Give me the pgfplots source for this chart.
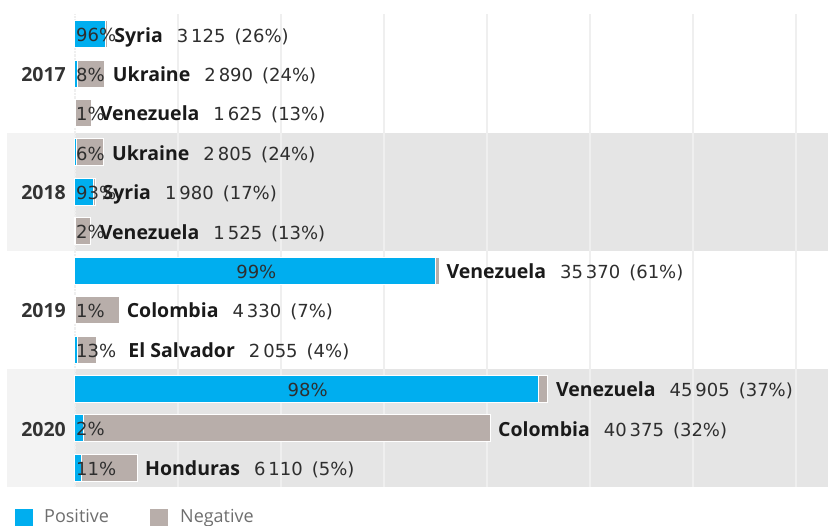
\documentclass[border=0pt]{standalone}
\usepackage{pgfplots}
\pgfplotsset{compat=1.18}
\usepackage{pgfplotstable}
\usepackage{fontspec}
\setmainfont{Open Sans}
\newfontfamily\reg{DejaVu Sans}
\definecolor{cpos}{HTML}{00AEEF}
\definecolor{cneg}{HTML}{B8AEAA}
\definecolor{band}{HTML}{E5E5E5}
\definecolor{bandl}{HTML}{F3F3F3}
\definecolor{gridc}{HTML}{EFEFEF}
\definecolor{txt}{HTML}{1A1A1A}
\definecolor{rtxt}{HTML}{2E2E2E}
\definecolor{yr}{HTML}{333333}
\definecolor{leg}{HTML}{6E6E6E}
\newcommand{\FB}{\fontsize{19.5}{22}\selectfont\bfseries}
\newcommand{\FR}{\reg\fontsize{18}{21}\selectfont}
\newcommand{\lab}[3]{{\FB #1}\hspace{14pt}{\FR\color{rtxt}#2\hspace{9pt}(#3\%)}}
\tikzset{
  pl/.style={anchor=base west, xshift=1pt, yshift=-7.6pt, inner sep=0pt, text=rtxt, font=\FR},
  cl/.style={anchor=base west, xshift=#1, yshift=-7.8pt, inner sep=0pt, text=txt},
  yl/.style={anchor=base east, xshift=-9pt, yshift=-7.8pt, inner sep=0pt, text=yr, font=\FB},
}

\pgfplotstableread{
row pos neg
1 3000 125
2 231 2659
3 16 1609
4 168 2637
5 1841 139
6 31 1494
7 35016 354
8 43 4287
9 267 1788
10 44987 918
11 808 39567
12 672 5438
}\data

\begin{document}
\begin{tikzpicture}[x=1pt,y=1pt]
\useasboundingbox (0,0) rectangle (828,526);
\fill[bandl] (7,275) rectangle (75,393.25);
\fill[band] (75,275) rectangle (828,393.25);
\fill[bandl] (7,38.5) rectangle (75,156.75);
\fill[band] (75,38.5) rectangle (828,156.75);
\begin{axis}[at={(75pt,38.5pt)}, anchor=south west, scale only axis,
  width=753pt, height=473pt,
  xbar stacked, bar width=27pt,
  xmin=0, xmax=73100, ymin=0.5, ymax=12.5, y dir=reverse,
  axis line style={draw=none}, tick style={draw=none},
  scaled x ticks=false,
  xtick={10000,20000,...,70000}, xticklabels={}, ytick=\empty,
  xmajorgrids, major grid style={gridc, line width=2pt},
  extra x ticks={0}, extra x tick labels={},
  extra x tick style={grid style={densely dotted, black!25, line width=1pt}},
  clip=false,
]
\addplot[fill=cpos, draw=white, line width=1pt] table[x=pos, y=row] {\data};
\addplot[fill=cneg, draw=white, line width=1pt] table[x=neg, y=row] {\data};

% anchors for percentage labels (drawn after the axis, on top of bars)
\coordinate (p1) at (axis cs:0,1);
\coordinate (p2) at (axis cs:0,2);
\coordinate (p3) at (axis cs:0,3);
\coordinate (p4) at (axis cs:0,4);
\coordinate (p5) at (axis cs:0,5);
\coordinate (p6) at (axis cs:0,6);
\coordinate (p7) at (axis cs:17508,7);
\coordinate (p8) at (axis cs:0,8);
\coordinate (p9) at (axis cs:0,9);
\coordinate (p10) at (axis cs:22494,10);
\coordinate (p11) at (axis cs:0,11);
\coordinate (p12) at (axis cs:0,12);

% country labels
\node[cl=7pt] at (axis cs:3125,1) {\lab{Syria}{3\,125}{26}};
\node[cl=8pt] at (axis cs:2890,2) {\lab{Ukraine}{2\,890}{24}};
\node[cl=8pt] at (axis cs:1625,3) {\lab{Venezuela}{1\,625}{13}};
\node[cl=8pt] at (axis cs:2805,4) {\lab{Ukraine}{2\,805}{24}};
\node[cl=7pt] at (axis cs:1980,5) {\lab{Syria}{1\,980}{17}};
\node[cl=9pt] at (axis cs:1525,6) {\lab{Venezuela}{1\,525}{13}};
\node[cl=7pt] at (axis cs:35370,7) {\lab{Venezuela}{35\,370}{61}};
\node[cl=7pt] at (axis cs:4330,8) {\lab{Colombia}{4\,330}{7}};
\node[cl=32pt] at (axis cs:2055,9) {\lab{El Salvador}{2\,055}{4}};
\node[cl=8pt] at (axis cs:45905,10) {\lab{Venezuela}{45\,905}{37}};
\node[cl=7pt] at (axis cs:40375,11) {\lab{Colombia}{40\,375}{32}};
\node[cl=7pt] at (axis cs:6110,12) {\lab{Honduras}{6\,110}{5}};

% year labels
\node[yl] at (axis cs:0,2) {2017};
\node[yl] at (axis cs:0,5) {2018};
\node[yl] at (axis cs:0,8) {2019};
\node[yl] at (axis cs:0,11) {2020};
\end{axis}
% percentage labels
\node[pl] at (p1) {96\%};
\node[pl] at (p2) {8\%};
\node[pl] at (p3) {1\%};
\node[pl] at (p4) {6\%};
\node[pl] at (p5) {93\%};
\node[pl] at (p6) {2\%};
\node[pl, anchor=base, xshift=0pt] at (p7) {99\%};
\node[pl] at (p8) {1\%};
\node[pl] at (p9) {13\%};
\node[pl, anchor=base, xshift=0pt] at (p10) {98\%};
\node[pl] at (p11) {2\%};
\node[pl] at (p12) {11\%};
% legend
\fill[cpos] (15,0) rectangle (33,17);
\node[anchor=base west, inner sep=0pt, text=leg, font=\fontsize{18}{21}\selectfont] at (44,3) {Positive};
\fill[cneg] (150,0) rectangle (168,17);
\node[anchor=base west, inner sep=0pt, text=leg, font=\fontsize{18}{21}\selectfont] at (180,3) {Negative};
\end{tikzpicture}
\end{document}
